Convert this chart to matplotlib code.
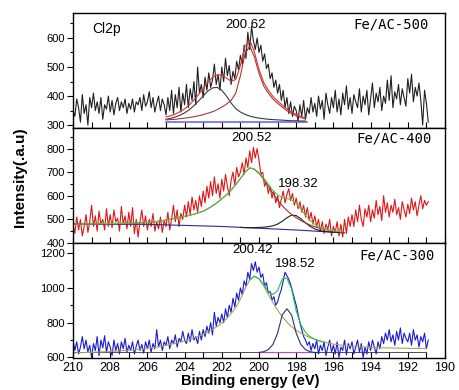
import numpy as np
import matplotlib
matplotlib.use("Agg")
import matplotlib.pyplot as plt
from matplotlib.ticker import MultipleLocator

plt.rcParams['font.family'] = ['Liberation Sans', 'DejaVu Sans']

# measured energy grid (eV), 0.1 eV step
energy = np.round(np.linspace(210.0, 190.9, 192), 1)

# raw spectra
fe500 = [350, 330, 390, 360, 310, 405, 340, 370, 300, 395,
         360, 410, 350, 380, 340, 395, 320, 370, 355, 400,
         345, 385, 335, 375, 395, 350, 380, 360, 390, 340,
         375, 355, 390, 345, 380, 370, 395, 350, 405, 365,
         380, 415, 360, 395, 345, 375, 400, 350, 390, 370,
         335, 395, 350, 420, 340, 405, 360, 430, 345, 410,
         370, 440, 360, 425, 385, 450, 370, 500, 410, 440,
         395, 465, 420, 480, 430, 455, 510, 440, 475, 420,
         500, 450, 530, 470, 505, 440, 485, 460, 520, 490,
         540, 510, 575, 530, 620, 560, 640, 590, 560, 600,
         550, 575, 520, 545, 495, 510, 460, 480, 430, 455,
         410, 440, 385, 420, 360, 395, 340, 380, 330, 365,
         350, 315, 370, 330, 385, 320, 360, 340, 395, 345,
         375, 330, 400, 355, 385, 320, 410, 370, 340, 395,
         360, 420, 345, 390, 335, 410, 370, 435, 355, 395,
         340, 405, 380, 360, 425, 345, 400, 370, 420, 335,
         390, 445, 360, 410, 380, 430, 350, 400, 375, 455,
         385, 470, 360, 415, 390, 440, 370, 425, 395, 365,
         460, 410, 475, 380, 430, 400, 445, 385, 300, 420,
         375, 310]

fe400 = [480, 440, 510, 455, 500, 430, 470, 520, 445, 490,
         560, 470, 515, 450, 535, 480, 500, 455, 545, 470,
         520, 465, 540, 490, 505, 450, 555, 480, 515, 460,
         530, 470, 550, 440, 500, 425, 490, 540, 470, 515,
         455, 500, 470, 525, 450, 490, 460, 510, 445, 495,
         470, 530, 455, 500, 560, 490, 540, 470, 525, 500,
         560, 510, 575, 520, 595, 540, 580, 530, 600, 555,
         620, 570, 640, 590, 660, 600, 680, 610, 650, 590,
         670, 620, 690, 640, 600, 665, 700, 645, 720, 680,
         700, 740, 690, 760, 720, 790, 740, 805, 760, 800,
         750, 690, 700, 640, 660, 610, 640, 590, 620, 570,
         600, 550, 585, 620, 570, 605, 630, 580, 610, 560,
         590, 545, 575, 530, 560, 510, 550, 495, 530, 480,
         515, 470, 500, 450, 490, 440, 480, 455, 500, 430,
         470, 445, 490, 430, 480, 425, 500, 440, 510, 470,
         520, 470, 540, 490, 560, 500, 470, 545, 510, 560,
         490, 540, 505, 580, 520, 555, 495, 600, 530, 570,
         510, 560, 530, 585, 520, 550, 500, 575, 540, 510,
         565, 525, 590, 540, 575, 515, 560, 600, 545, 580,
         560, 575]

fe300 = [700, 640, 690, 620, 660, 720, 650, 700, 630, 670,
         600, 680, 640, 720, 610, 700, 655, 725, 630, 690,
         660, 610, 700, 640, 680, 620, 690, 650, 710, 630,
         670, 640, 690, 620, 665, 700, 640, 675, 625, 690,
         650, 700, 630, 680, 650, 760, 660, 700, 640, 690,
         670, 720, 650, 700, 680, 730, 660, 710, 690, 750,
         700, 680, 740, 690, 760, 700, 720, 680, 750, 700,
         760, 720, 780, 740, 800, 730, 860, 780, 830, 800,
         850, 800, 880, 830, 900, 860, 940, 890, 970, 930,
         1000, 960, 1040, 1010, 1090, 1050, 1140, 1100, 1150, 1090,
         1120, 1060, 1080, 1010, 1030, 970, 980, 930, 950, 900,
         920, 960, 990, 1040, 1090, 1070, 1050, 1020, 980, 940,
         900, 850, 800, 760, 720, 700, 670, 690, 640, 680,
         650, 700, 620, 670, 640, 690, 610, 660, 700, 630,
         670, 620, 690, 600, 660, 640, 700, 615, 680, 650,
         690, 620, 660, 700, 630, 680, 600, 660, 620, 690,
         640, 700, 660, 620, 690, 650, 720, 680, 740, 700,
         760, 690, 730, 670, 750, 700, 770, 680, 740, 710,
         690, 740, 670, 760, 700, 730, 660, 720, 690, 740,
         650, 700]

# fitted curves, Fe/AC-500 (205 -> 197.5 eV, 0.25 eV step)
fit500_e = np.arange(205.0, 197.49, -0.25)
fit500_a = [320, 323, 328, 334, 342, 353, 367, 383, 400, 417, 428, 430,
            420, 400, 376, 357, 345, 337, 331, 327, 324, 322, 320, 319,
            318, 317, 316, 315, 315, 314, 314]
fit500_b = [318, 319, 320, 322, 324, 326, 329, 332, 336, 341, 346, 353,
            362, 372, 385, 410, 470, 545, 572, 535, 478, 435, 410, 390,
            375, 362, 350, 340, 332, 326, 321]
fit500_sum = [328, 332, 338, 346, 356, 369, 386, 405, 426, 448, 464, 473,
              472, 462, 451, 457, 505, 572, 593, 552, 492, 447, 420, 399,
              383, 369, 356, 345, 337, 330, 325]
base500_e = [205.0, 197.4]
base500_v = [311, 311]

# fitted curves, Fe/AC-400 (210 -> 195.5 eV, 0.25 eV step)
fit400_e = np.arange(210.0, 195.49, -0.25)
fit400_c = [480, 480, 480, 481, 481, 481, 482, 482, 482, 483, 483, 484,
            484, 485, 485, 486, 487, 489, 491, 494, 497, 501, 505, 509,
            513, 517, 522, 528, 535, 545, 557, 571, 587, 604, 624, 647,
            673, 700, 718, 712, 695, 670, 640, 610, 582, 558, 538, 521,
            507, 495, 485, 476, 469, 463, 458, 454, 451, 448, 446]
fit400_sum = [480, 480, 480, 481, 481, 481, 482, 482, 482, 483, 483, 484,
              484, 485, 485, 486, 487, 489, 491, 494, 497, 501, 505, 509,
              513, 517, 522, 528, 535, 545, 557, 571, 587, 604, 624, 647,
              673, 700, 718, 714, 698, 676, 649, 623, 603, 592, 588, 583,
              568, 544, 517, 495, 479, 467, 459, 454, 452, 449, 447]
fit400_d_e = np.arange(201.0, 195.49, -0.25)
fit400_d = [466, 465, 465, 465, 466, 467, 469, 473, 480, 492, 507, 518,
            516, 503, 485, 470, 460, 453, 449, 447, 446, 445, 444]
base400_e = [210.0, 206.0, 202.0, 198.0, 195.4]
base400_v = [480, 479, 470, 455, 443]

# fitted curves, Fe/AC-300
fit300_e = np.arange(210.0, 190.99, -0.25)
fit300_main = [626, 627, 628, 629, 630, 631, 632, 633, 634, 636, 638, 640,
               642, 644, 647, 650, 653, 657, 661, 665, 670, 675, 681, 688,
               695, 703, 712, 722, 733, 746, 761, 778, 798, 822, 852, 888,
               935, 995, 1045, 1067, 1052, 1012, 962, 915, 872, 835, 803, 777,
               756, 740, 726, 714, 704, 695, 688, 682, 677, 673, 670, 667,
               665, 663, 661, 659, 658, 657, 656, 655, 655, 654, 654, 653,
               653, 652, 652, 652, 651]
fit300_2_e = np.arange(200.0, 196.74, -0.25)
fit300_2 = [629, 633, 645, 675, 740, 845, 880, 845, 740, 675, 645, 633,
            629, 628]
fit300_sum_e = np.arange(200.5, 196.49, -0.25)
fit300_sum = [1045, 1067, 1053, 1020, 977, 962, 984, 1052, 1055, 994, 868,
              789, 744, 719, 705, 695, 688]
base300_e = [210.0, 191.0]
base300_v = [630, 630]
base300b_e = [200.0, 197.2]
base300b_v = [633, 633]

fig = plt.figure(figsize=(4.59, 3.90), dpi=100)
L, W, H = 73 / 459, 372 / 459, 115 / 390
ax1 = fig.add_axes([L, 1 - 128 / 390, W, H])
ax2 = fig.add_axes([L, 1 - 243 / 390, W, H])
ax3 = fig.add_axes([L, 1 - 358 / 390, W, H])

lw_d = 0.8
lw_f = 0.8

# Fe/AC-500
ax1.plot(energy, fe500, color='#202020', lw=lw_d)
ax1.plot(base500_e, base500_v, color='#6a6ae8', lw=1.2)
ax1.plot(fit500_e, fit500_a, color='#3a3a3a', lw=lw_f)
ax1.plot(fit500_e, fit500_b, color='#a83838', lw=lw_f)
ax1.plot(fit500_e, fit500_sum, color='#e03030', lw=lw_f)
ax1.set_ylim(290, 686)
ax1.yaxis.set_major_locator(MultipleLocator(100))
ax1.yaxis.set_minor_locator(MultipleLocator(50))

# Fe/AC-400
ax2.plot(energy, fe400, color='#e01515', lw=lw_d)
ax2.plot(base400_e, base400_v, color='#2c2c90', lw=lw_f)
ax2.plot(fit400_d_e, fit400_d, color='#202020', lw=lw_f)
ax2.plot(fit400_e, fit400_c, color='#993333', lw=lw_f)
ax2.plot(fit400_e, fit400_sum, color='#55cc44', lw=lw_f)
ax2.set_ylim(400, 887)
ax2.yaxis.set_major_locator(MultipleLocator(100))
ax2.yaxis.set_minor_locator(MultipleLocator(50))

# Fe/AC-300
ax3.plot(energy, fe300, color='#1a1ad0', lw=lw_d)
ax3.plot(base300_e, base300_v, color='#30305a', lw=0.6)
ax3.plot(base300b_e, base300b_v, color='#d040d0', lw=lw_f)
ax3.plot(fit300_e, fit300_main, color='#a5a555', lw=lw_f)
ax3.plot(fit300_2_e, fit300_2, color='#303070', lw=lw_f)
ax3.plot(fit300_sum_e, fit300_sum, color='#22c050', lw=lw_f)
ax3.set_ylim(597, 1258)
ax3.yaxis.set_major_locator(MultipleLocator(200))
ax3.yaxis.set_minor_locator(MultipleLocator(100))

for ax in (ax1, ax2, ax3):
    ax.set_xlim(210, 190)
    ax.xaxis.set_major_locator(MultipleLocator(2))
    ax.xaxis.set_minor_locator(MultipleLocator(1))
    ax.tick_params(axis='x', which='both', direction='in', length=4,
                   width=0.8, top=False, labelsize=9)
    ax.tick_params(axis='y', which='major', direction='out', length=4,
                   width=0.8, labelsize=8, pad=2)
    ax.tick_params(axis='y', which='minor', direction='out', length=2.5,
                   width=0.8)
    for s in ax.spines.values():
        s.set_linewidth(1.0)
ax1.tick_params(axis='x', labelbottom=False)
ax2.tick_params(axis='x', labelbottom=False)
ax3.tick_params(axis='x', pad=3)

mono = 'DejaVu Sans Mono'
ax1.text(0.051, 0.861, 'Cl2p', transform=ax1.transAxes, fontsize=10,
         ha='left', va='center')
ax1.text(0.465, 0.896, '200.62', transform=ax1.transAxes, fontsize=9.5,
         ha='center', va='center')
ax1.text(0.957, 0.904, 'Fe/AC-500', transform=ax1.transAxes, fontsize=10,
         ha='right', va='center', family=mono)

ax2.text(0.481, 0.913, '200.52', transform=ax2.transAxes, fontsize=9.5,
         ha='center', va='center')
ax2.text(0.605, 0.513, '198.32', transform=ax2.transAxes, fontsize=9.5,
         ha='center', va='center')
ax2.text(0.965, 0.913, 'Fe/AC-400', transform=ax2.transAxes, fontsize=10,
         ha='right', va='center', family=mono)

ax3.text(0.484, 0.939, '200.42', transform=ax3.transAxes, fontsize=9.5,
         ha='center', va='center')
ax3.text(0.597, 0.817, '198.52', transform=ax3.transAxes, fontsize=9.5,
         ha='center', va='center')
ax3.text(0.973, 0.887, 'Fe/AC-300', transform=ax3.transAxes, fontsize=10,
         ha='right', va='center', family=mono)

fig.text(250 / 459, 1 - 381 / 390, 'Binding energy (eV)', fontsize=10.5,
         fontweight='bold', ha='center', va='center')
fig.text(20 / 459, 1 - 177 / 390, 'Intensity(.a.u)', fontsize=11,
         fontweight='bold', ha='center', va='center', rotation=90)

fig.savefig('out.png', dpi=100)
